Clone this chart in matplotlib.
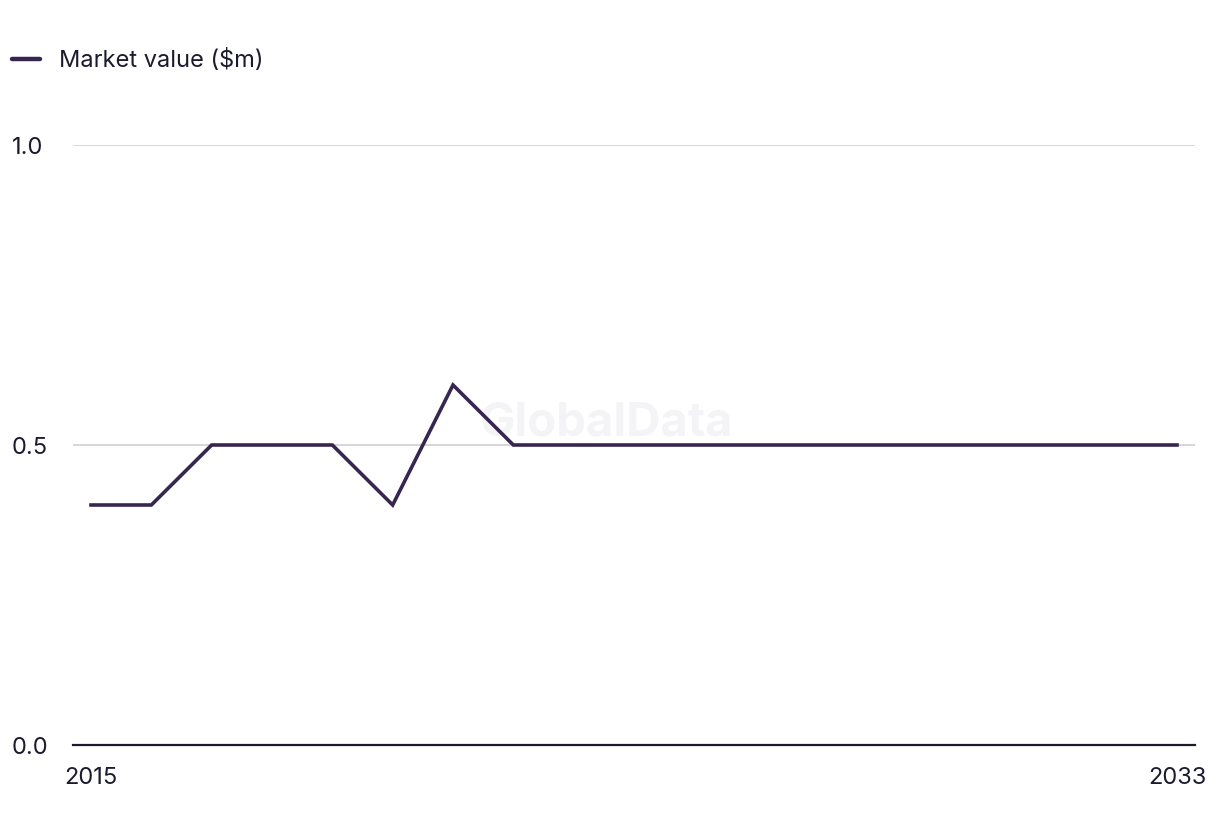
import matplotlib
matplotlib.use("Agg")
import matplotlib.pyplot as plt
from matplotlib.lines import Line2D

years = list(range(2015, 2034))
market_value = [0.4, 0.4, 0.5, 0.5, 0.5, 0.4, 0.6, 0.5, 0.5, 0.5,
                0.5, 0.5, 0.5, 0.5, 0.5, 0.5, 0.5, 0.5, 0.5]
series_label = "Market value ($m)"
y_ticks = [0.0, 0.5, 1.0]
y_tick_labels = ["0.0", "0.5", "1.0"]
x_ticks = [2015, 2033]
x_tick_labels = ["2015", "2033"]

plt.rcParams['font.family'] = ['Inter', 'DejaVu Sans']
line_color = "#37264f"
text_color = "#1c1b2e"

fig = plt.figure(figsize=(12.2, 8.36), dpi=100)
W, H = 1220, 836
ax = fig.add_axes([73 / W, 1 - 745 / H, (1195 - 73) / W, (745 - 145) / H])

ax.plot(years, market_value, color=line_color, linewidth=2.6, zorder=3,
        solid_joinstyle='miter')

ax.set_xlim(2015 - 18 / 60.33, 2033 + 18 / 60.33)
ax.set_ylim(0, 1.0)

ax.set_yticks(y_ticks)
ax.set_yticklabels(y_tick_labels)
ax.set_xticks(x_ticks)
ax.set_xticklabels(x_tick_labels)

ax.grid(axis='y', color='#d2d2d8', linewidth=1.3, zorder=0)
ax.set_axisbelow(True)
for s in ['top', 'right', 'left']:
    ax.spines[s].set_visible(False)
ax.spines['bottom'].set_color(text_color)
ax.spines['bottom'].set_linewidth(1.6)
ax.spines['bottom'].set_zorder(4)

ax.tick_params(axis='both', length=0, labelsize=17, labelcolor=text_color)
ax.tick_params(axis='y', pad=61 / 1.389)
for lbl in ax.get_yticklabels():
    lbl.set_horizontalalignment('left')
ax.tick_params(axis='x', pad=16)

# watermark
ax.text(0.476, 0.535, "GlobalData", transform=ax.transAxes, fontsize=34,
        fontweight='bold', color='#f4f4f6', ha='center', va='center', zorder=1)

handle = Line2D([0], [0], color=line_color, linewidth=3.2, solid_capstyle='round')
fig.legend([handle], [series_label], loc='center left',
           bbox_to_anchor=(12 / W, 1 - 61 / H), frameon=False,
           fontsize=17, handlelength=1.2, handletextpad=0.8,
           borderaxespad=0, borderpad=0, labelcolor=text_color)

fig.savefig("out.png", dpi=100)
